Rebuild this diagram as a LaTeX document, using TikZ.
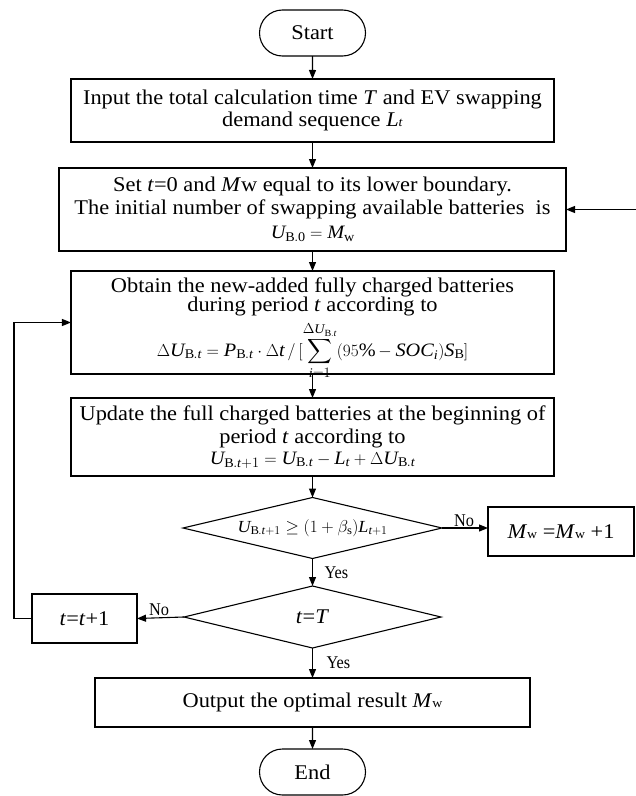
\documentclass[tikz,border=0pt]{standalone}
\usepackage{amsmath}
\usepackage{fontspec}
\setmainfont{Liberation Serif}[FakeStretch=1.07]
\usepackage{graphicx}
\usetikzlibrary{arrows.meta,shapes.geometric,shapes.misc}
\newcommand{\lbl}[1]{\scalebox{0.85}[1]{#1}}
\newcommand{\sw}{{\fontsize{13}{13}\selectfont w}}
\newcommand{\mi}[1]{\textit{#1}}
\begin{document}
\begin{tikzpicture}[x=1bp,y=-1bp,
  every node/.style={inner sep=0pt,outer sep=0pt},
  txt/.style={font=\fontsize{21}{23}\selectfont},
  frm/.style={font=\fontsize{19}{21}\selectfont},
  proc/.style={draw,line width=1.1bp,rectangle,align=center,txt},
  term/.style={draw,line width=1.1bp,rounded rectangle,minimum width=106bp,minimum height=46bp,txt},
  dec/.style={draw,line width=1.1bp,diamond},
  arr/.style={line width=1.1bp,-{Triangle[length=9bp,width=7bp]}},
  yn/.style={font=\fontsize{18}{18}\selectfont}]
\useasboundingbox (0,0) rectangle (636,796);

\node[term] (start) at (312.5,33) {Start};

\node[proc,minimum width=483bp,minimum height=63bp] (input) at (312.5,110.5)
  {Input the total calculation time \textit{T} and EV swapping\\
   demand sequence \textit{L}{\fontsize{13}{13}\selectfont\textit{t}}};

\node[proc,minimum width=507bp,minimum height=83bp] (set) at (312.5,209.5)
  {Set \textit{t}=0 and \textit{M}w equal to its lower boundary.\\
   The initial number of swapping available batteries\ \ is\\[1bp]
   {\fontsize{19}{21}\selectfont$\mi{U}_{\mathrm{B.0}}=\mi{M}_{\mathrm{w}}$}};

\node[draw,line width=1.1bp,minimum width=483bp,minimum height=103bp] (obtain) at (312.5,322.5) {};
\node[txt] (ob1) at (312.5,287) {Obtain the new-added fully charged batteries};
\node[txt] (ob2) at (312.5,306) {during period \textit{t} according to};
\node[frm] (ob3) at (312.5,351)
  {$\displaystyle \Delta\mi{U}_{\mathrm{B}.\mi{t}}=\mi{P}_{\mathrm{B}.\mi{t}}\cdot\Delta\mi{t}\,/\,[\sum_{\mi{i}=1}^{\Delta\mi{U}_{\mathrm{B}.\mi{t}}}(95\%-\mi{SOC}_{\mi{i}})\mi{S}_{\mathrm{B}}]$};

\node[proc,minimum width=483bp,minimum height=78bp] (update) at (312.5,437)
  {Update the full charged batteries at the beginning of\\
   period \textit{t} according to\\[-2bp]
   {\fontsize{19}{21}\selectfont$\mi{U}_{\mathrm{B}.\mi{t}+1}=\mi{U}_{\mathrm{B}.\mi{t}}-\mi{L}_{\mi{t}}+\Delta\mi{U}_{\mathrm{B}.\mi{t}}$}};

\node[dec,minimum width=259bp,minimum height=61bp] (d1) at (312.5,528) {};
\node[font=\fontsize{17}{19}\selectfont] (d1t) at (d1.center)
  {$\mi{U}_{\mathrm{B}.\mi{t}+1}\geq(1+\beta_{\mathrm{s}})\mi{L}_{\mi{t}+1}$};

\node[proc,minimum width=146bp,minimum height=49bp] (mw) at (561,531.5)
  {\textit{M}\sw\ =\textit{M}\sw\ +1};

\node[dec,minimum width=257bp,minimum height=62bp] (d2) at (312.5,617) {};
\node[txt] (d2t) at (d2.center) {\textit{t}=\textit{T}};

\node[proc,minimum width=105bp,minimum height=49bp] (tt) at (84.5,618.5)
  {\textit{t}=\textit{t}+1};

\node[proc,minimum width=435bp,minimum height=49bp] (output) at (312.5,702.5)
  {Output the optimal result \textit{M}\sw};

\node[term] (end) at (312.5,772) {End};

\coordinate (rin) at (640,209.5);
\coordinate (lx) at (14,0);

\draw[arr] (start) -- (input);
\draw[arr] (input) -- (set);
\draw[arr] (set) -- (obtain);
\draw[arr] (obtain) -- (update);
\draw[arr] (update) -- (d1);
\draw[arr] (d1) -- node[yn,right=12bp,pos=0.5] (y1) {\lbl{Yes}} (d2);
\draw[arr] (d2) -- node[yn,right=14bp,pos=0.5] (y2) {\lbl{Yes}} (output);
\draw[arr] (output) -- (end);
\draw[arr] (d1.east) -- node[yn,above=1bp,pos=0.48] (n1) {\lbl{No}} (d1.east -| mw.west);
\draw[arr] (d2.west) -- node[yn,above=2bp,pos=0.53] (n2) {\lbl{No}} (tt.east);
\draw[arr] (tt.west) -- (tt.west -| lx) |- (obtain.west);
\draw[arr] (rin) -- (set.east);
\end{tikzpicture}
\end{document}
